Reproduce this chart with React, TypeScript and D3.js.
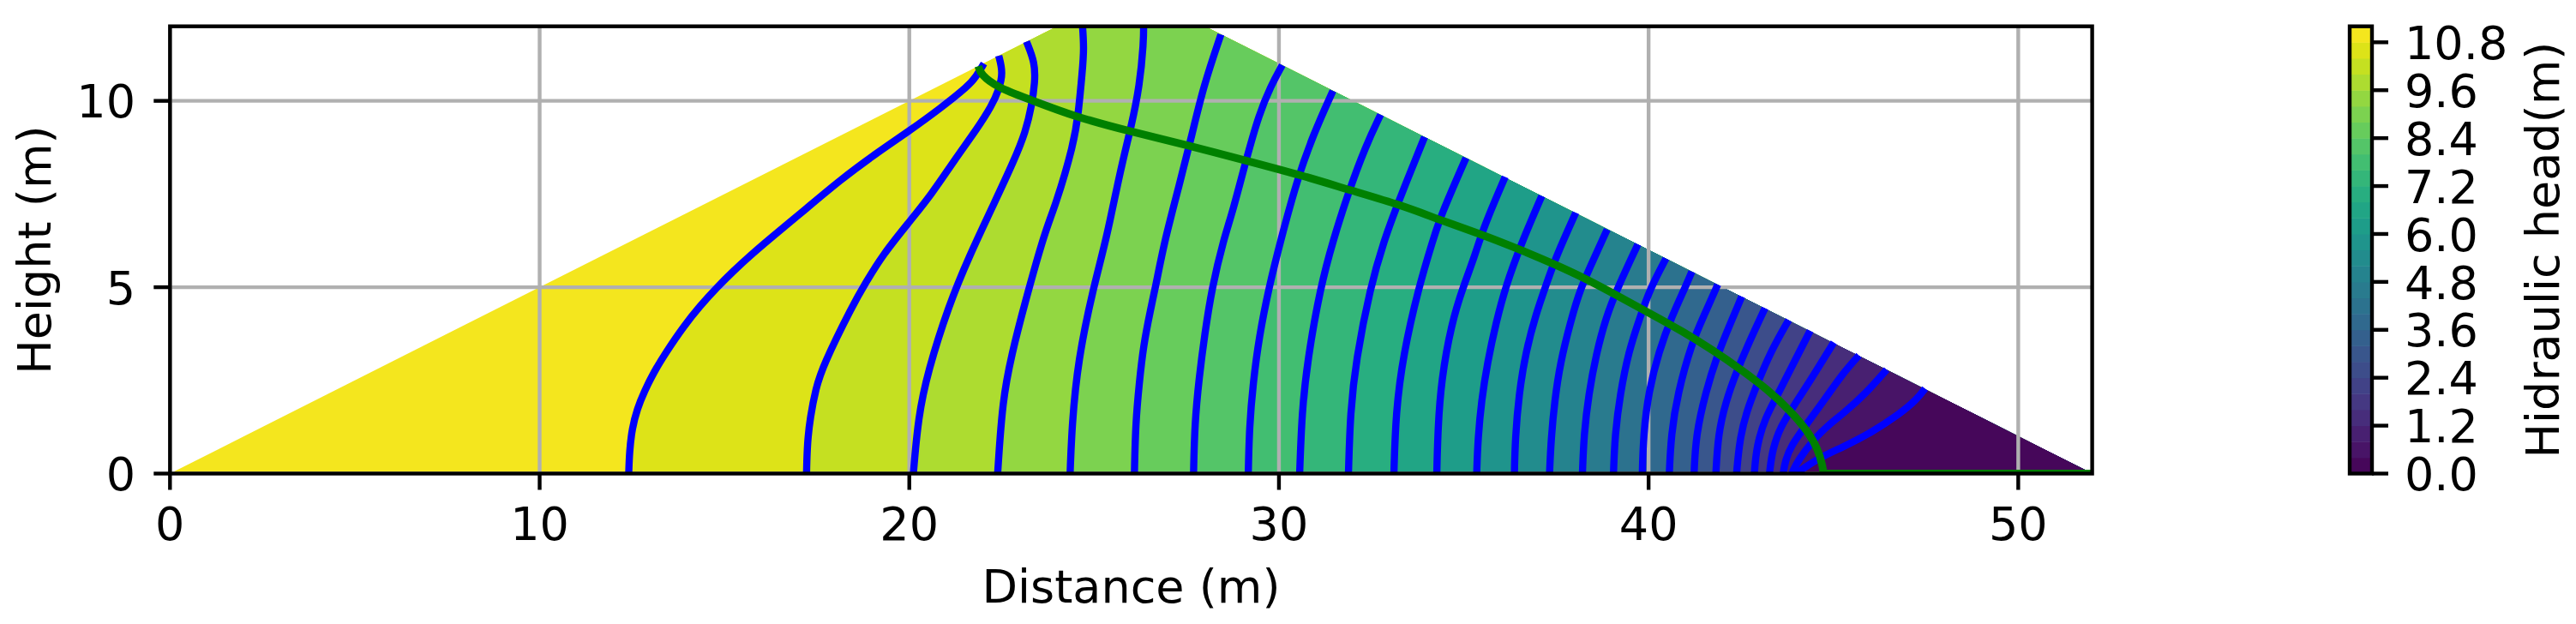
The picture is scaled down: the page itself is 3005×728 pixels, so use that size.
import React from "react";
import * as d3 from "d3";

type Pt = [number, number];

const xTicks = [0, 10, 20, 30, 40, 50];
const yTicks = [0, 5, 10];
const colorTicks = [0, 1.2, 2.4, 3.6, 4.8, 6.0, 7.2, 8.4, 9.6, 10.8];
const headLevels = [
  0, 0.4, 0.8, 1.2, 1.6, 2.0, 2.4, 2.8, 3.2, 3.6, 4.0, 4.4, 4.8, 5.2, 5.6,
  6.0, 6.4, 6.8, 7.2, 7.6, 8.0, 8.4, 8.8, 9.2, 9.6, 10.0, 10.4, 10.8, 11.2,
];
const damOutline: Pt[] = [[0, 0], [24, 12], [28, 12], [52, 0]];

const head0_4: Pt[] = [[43.99, 0], [44.62, 0.43], [45.24, 0.7], [46.01, 1.09], [46.78, 1.59], [47.25, 1.98], [47.48, 2.28]];
const head0_8: Pt[] = [[43.87, 0], [44.04, 0.35], [44.47, 0.93], [44.93, 1.36], [45.24, 1.59], [45.86, 2.13], [46.44, 2.79]];
const head1_2: Pt[] = [[43.64, 0], [43.7, 0.35], [43.85, 0.74], [44.24, 1.28], [44.78, 2.01], [45.24, 2.67], [45.69, 3.17]];
const head1_6: Pt[] = [[43.27, 0], [43.35, 0.66], [43.58, 1.28], [43.93, 1.82], [44.39, 2.52], [45.01, 3.52]];
const head2_0: Pt[] = [[42.86, 0], [42.92, 0.74], [43.16, 1.51], [43.46, 2.05], [43.85, 2.82], [44.37, 3.83]];
const head2_4: Pt[] = [[42.38, 0], [42.46, 0.9], [42.65, 1.67], [42.92, 2.36], [43.31, 3.29], [43.79, 4.12]];
const head2_8: Pt[] = [[41.82, 0], [41.88, 1.05], [42.08, 1.9], [42.38, 2.75], [42.81, 3.72], [43.15, 4.44]];
const head3_2: Pt[] = [[41.23, 0], [41.28, 1.05], [41.55, 2.2], [41.84, 3.13], [42.19, 3.98], [42.52, 4.75]];
const head3_6: Pt[] = [[40.56, 0], [40.61, 1.05], [40.78, 2.13], [41.17, 3.51], [41.48, 4.2], [41.87, 5.07]];
const head4_0: Pt[] = [[39.83, 0], [39.86, 1.05], [40.0, 2.2], [40.28, 3.28], [40.62, 4.2], [41.01, 5.04], [41.17, 5.42]];
const head4_4: Pt[] = [[39.05, 0], [39.09, 1.05], [39.23, 2.13], [39.46, 3.28], [39.77, 4.2], [40.04, 4.96], [40.47, 5.77]];
const head4_8: Pt[] = [[38.21, 0], [38.25, 1.05], [38.38, 2.13], [38.58, 3.2], [38.85, 4.2], [39.15, 4.96], [39.71, 6.15]];
const head5_2: Pt[] = [[37.32, 0], [37.36, 0.9], [37.46, 1.97], [37.61, 2.97], [37.88, 4.04], [38.15, 4.96], [38.54, 5.81], [38.88, 6.55]];
const head5_6: Pt[] = [[36.37, 0], [36.39, 0.9], [36.49, 2.13], [36.68, 3.28], [36.95, 4.27], [37.22, 5.04], [37.49, 5.81], [38.03, 7.0]];
const head6_0: Pt[] = [[35.35, 0], [35.38, 0.9], [35.48, 1.97], [35.64, 2.97], [35.87, 4.04], [36.14, 5.04], [36.53, 6.11], [37.11, 7.45]];
const head6_4: Pt[] = [[34.27, 0], [34.3, 1.2], [34.39, 2.51], [34.67, 4.04], [34.98, 5], [35.29, 5.81], [35.52, 6.57], [36.12, 7.96]];
const head6_8: Pt[] = [[33.11, 0], [33.16, 1.64], [33.36, 3.19], [33.78, 5], [34.17, 6.27], [34.36, 6.88], [35.06, 8.47]];
const head7_2: Pt[] = [[31.88, 0], [31.93, 1.64], [32.08, 3.03], [32.47, 5], [32.85, 6.27], [33.19, 7.19], [33.94, 9.03]];
const head7_6: Pt[] = [[30.56, 0], [30.62, 1.64], [30.77, 3.03], [31.12, 5], [31.47, 6.27], [31.86, 7.49], [32.35, 8.8], [32.75, 9.63]];
const head8_0: Pt[] = [[29.17, 0], [29.2, 1.26], [29.3, 2.42], [29.46, 3.65], [29.73, 5], [30.05, 6.27], [30.49, 7.88], [30.93, 9.1], [31.46, 10.27]];
const head8_4: Pt[] = [[27.69, 0], [27.72, 1.33], [27.84, 2.57], [27.99, 3.73], [28.19, 5], [28.5, 6.27], [28.75, 7.03], [29.11, 8.41], [29.46, 9.64], [29.78, 10.4], [30.09, 10.96]];
const head8_8: Pt[] = [[26.09, 0], [26.12, 1.33], [26.22, 2.42], [26.33, 3.42], [26.53, 4.42], [26.66, 5], [26.91, 6.27], [27.3, 7.72], [27.65, 9.1], [27.96, 10.4], [28.43, 11.78]];
const head9_2: Pt[] = [[24.35, 0], [24.4, 1.3], [24.56, 3.03], [24.98, 5], [25.33, 6.27], [25.7, 8.1], [26.01, 9.33], [26.23, 10.4], [26.34, 11.56], [26.34, 12.1]];
const head9_6: Pt[] = [[22.39, 0], [22.52, 1.97], [22.77, 3.2], [23.11, 4.52], [23.69, 6.57], [23.93, 7.11], [24.46, 8.87], [24.58, 9.72], [24.68, 10.79], [24.73, 11.4], [24.68, 12.1]];
const head10_0: Pt[] = [[20.11, 0], [20.24, 1.51], [20.5, 2.74], [21.07, 4.52], [21.61, 5.81], [22.3, 7.26], [22.84, 8.41], [23.15, 9.18], [23.31, 9.87], [23.4, 10.5], [23.4, 11.02], [23.17, 11.59]];
const head10_4: Pt[] = [[17.22, 0], [17.24, 0.82], [17.32, 1.51], [17.47, 2.28], [17.66, 2.89], [18.47, 4.52], [18.82, 5.12], [19.29, 5.88], [19.98, 6.73], [20.6, 7.49], [21.22, 8.41], [21.84, 9.26], [22.23, 9.87], [22.42, 10.29], [22.54, 10.75], [22.42, 11.21]];
const head10_8: Pt[] = [[12.41, 0], [12.43, 0.59], [12.5, 1.21], [12.64, 1.74], [12.83, 2.2], [13.1, 2.74], [13.41, 3.24], [13.88, 3.93], [14.34, 4.5], [14.8, 5], [15.27, 5.46], [15.65, 5.81], [16.27, 6.34], [17.12, 7.03], [18.13, 7.88], [19.13, 8.61], [19.98, 9.18], [20.83, 9.79], [21.61, 10.41], [21.8, 10.64], [22.02, 11.0]];

const isolines: Pt[][] = [
  head0_4, head0_8, head1_2, head1_6, head2_0, head2_4, head2_8, head3_2, head3_6,
  head4_0, head4_4, head4_8, head5_2, head5_6, head6_0, head6_4, head6_8, head7_2,
  head7_6, head8_0, head8_4, head8_8, head9_2, head9_6, head10_0, head10_4, head10_8,
];

const phreaticLine: Pt[] = [
  [21.87, 10.93], [21.93, 10.71], [22.38, 10.36], [23.23, 10.05], [24.46, 9.58], [25.97, 9.18],
  [27.56, 8.8], [29.07, 8.41], [30.66, 7.99], [31.9, 7.61], [33.32, 7.2], [34.36, 6.8],
  [35.37, 6.46], [36.45, 6.04], [37.45, 5.62], [38.38, 5.19], [39.16, 4.77], [40.01, 4.31],
  [40.93, 3.81], [41.77, 3.29], [42.46, 2.82], [43.23, 2.25], [43.85, 1.67], [44.31, 1.13],
  [44.58, 0.66], [44.71, 0.2], [44.73, 0],
];
const drainLine: Pt[] = [[44.73, 0], [52, 0]];

const plot = { left: 198.3, right: 2440.6, top: 30.7, bottom: 552.5 };
const bar = { left: 2741, right: 2767 };
const font = "'DejaVu Sans', sans-serif";
const fontSize = 54;
const spineWidth = 4.4;

const x = d3.scaleLinear().domain([0, 52]).range([plot.left, plot.right]);
const y = d3.scaleLinear().domain([0, 12]).range([plot.bottom, plot.top]);
const cbar = d3.scaleLinear().domain([0, 11.2]).range([plot.bottom, plot.top]);
const bandColor = (i: number) =>
  d3.interpolateViridis((headLevels[i] + headLevels[i + 1]) / 2 / 11.2);

const curved = d3
  .line<Pt>()
  .x((d) => x(d[0]))
  .y((d) => y(d[1]))
  .curve(d3.curveBasis);
const straight = d3
  .line<Pt>()
  .x((d) => x(d[0]))
  .y((d) => y(d[1]));

const bandPath = (pts: Pt[]) => {
  const last = pts[pts.length - 1];
  return `${curved(pts)}L${x(last[0])},${y(20)}L${x(60)},${y(20)}L${x(60)},${y(0)}Z`;
};

export default function App() {
  const bands = isolines.map((pts, i) => ({ pts, color: bandColor(i) })).reverse();
  return (
    <svg
      width={3005}
      height={728}
      viewBox="0 0 3005 728"
      style={{ position: "absolute", left: 0, top: 0, background: "#fff" }}
      fontFamily={font}
      fontSize={fontSize}
    >
      <defs>
        <clipPath id="dam">
          <path d={straight(damOutline) + "Z"} />
        </clipPath>
        <clipPath id="axes">
          <rect x={plot.left} y={plot.top} width={plot.right - plot.left} height={plot.bottom - plot.top} />
        </clipPath>
      </defs>

      <g clipPath="url(#axes)">
        <g clipPath="url(#dam)">
          <rect x={plot.left} y={plot.top} width={plot.right - plot.left} height={plot.bottom - plot.top} fill={bandColor(27)} />
          {bands.map((b, i) => (
            <path key={i} d={bandPath(b.pts)} fill={b.color} />
          ))}
        </g>
        {xTicks.map((t) => (
          <line key={t} x1={x(t)} x2={x(t)} y1={plot.top} y2={plot.bottom} stroke="#b0b0b0" strokeWidth={spineWidth} />
        ))}
        {yTicks.map((t) => (
          <line key={t} x1={plot.left} x2={plot.right} y1={y(t)} y2={y(t)} stroke="#b0b0b0" strokeWidth={spineWidth} />
        ))}
        {isolines.map((pts, i) => (
          <path key={i} d={curved(pts) ?? ""} fill="none" stroke="#0000ff" strokeWidth={8.4} />
        ))}
        <path d={curved(phreaticLine) ?? ""} fill="none" stroke="#008000" strokeWidth={9} />
        <path d={straight(drainLine) ?? ""} fill="none" stroke="#008000" strokeWidth={9} />
      </g>

      <rect
        x={plot.left}
        y={plot.top}
        width={plot.right - plot.left}
        height={plot.bottom - plot.top}
        fill="none"
        stroke="#000"
        strokeWidth={spineWidth}
      />
      {xTicks.map((t) => (
        <g key={t}>
          <line x1={x(t)} x2={x(t)} y1={plot.bottom} y2={plot.bottom + 19} stroke="#000" strokeWidth={spineWidth} />
          <text x={x(t)} y={630} textAnchor="middle">{t}</text>
        </g>
      ))}
      {yTicks.map((t) => (
        <g key={t}>
          <line x1={plot.left - 19} x2={plot.left} y1={y(t)} y2={y(t)} stroke="#000" strokeWidth={spineWidth} />
          <text x={158} y={y(t) + 19.7} textAnchor="end">{t}</text>
        </g>
      ))}
      <text x={(plot.left + plot.right) / 2} y={703} textAnchor="middle">Distance (m)</text>
      <text transform={`translate(59,${(plot.top + plot.bottom) / 2}) rotate(-90)`} textAnchor="middle">Height (m)</text>

      {headLevels.slice(0, -1).map((lv, i) => (
        <rect
          key={lv}
          x={bar.left}
          width={bar.right - bar.left}
          y={cbar(headLevels[i + 1])}
          height={cbar(lv) - cbar(headLevels[i + 1]) + 0.5}
          fill={bandColor(i)}
        />
      ))}
      <rect x={bar.left} y={plot.top} width={bar.right - bar.left} height={plot.bottom - plot.top} fill="none" stroke="#000" strokeWidth={spineWidth} />
      {colorTicks.map((t) => (
        <g key={t}>
          <line x1={bar.right} x2={bar.right + 19} y1={cbar(t)} y2={cbar(t)} stroke="#000" strokeWidth={spineWidth} />
          <text x={2805} y={cbar(t) + 19.7}>{t.toFixed(1)}</text>
        </g>
      ))}
      <text transform={`translate(2985,${(plot.top + plot.bottom) / 2}) rotate(-90)`} textAnchor="middle">Hidraulic head(m)</text>
    </svg>
  );
}
